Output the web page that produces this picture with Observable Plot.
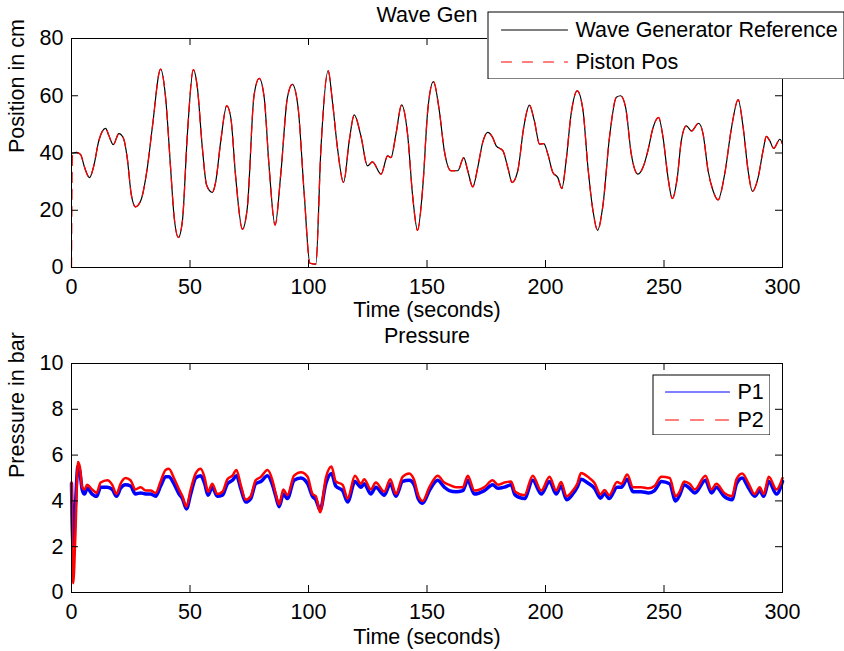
<!DOCTYPE html>
<html><head><meta charset="utf-8">
<script src="https://cdn.jsdelivr.net/npm/d3@7"></script>
<script src="https://cdn.jsdelivr.net/npm/@observablehq/plot@0.6"></script>
<style>
html,body{margin:0;padding:0;background:#fff;}
#wrap{position:relative;width:844px;height:651px;background:#fff;}
</style></head><body><div id="wrap"></div>
<script>
// ---------- data ----------
const xTicks = [0, 50, 100, 150, 200, 250, 300];
const posTicks = [0, 20, 40, 60, 80];
const presTicks = [0, 2, 4, 6, 8, 10];

const waveTime = [0,0.4,2,3.8,5.5,7.6,9.4,11.5,14.4,15.8,17.6,20,21.8,23.5,25.2,27,29.2,32,34.1,37.6,39.7,41.8,43.2,45.1,46.8,48.9,51.4,53.1,55.2,57,59.4,60.8,63,65.5,67.2,69.3,72.1,74.2,77,79.2,81.3,83.4,85.9,88.3,91.1,93.2,95.6,98.2,100.6,103.1,105.2,108.3,110.1,112.2,114.8,117.2,119.3,122.1,124.9,127,130.6,133.4,134.8,136.9,139.3,141.8,144,146,148.2,150.3,152.7,155.2,157.3,160.1,163,165.5,167.2,169.3,171.4,173.5,175.6,177.7,179.2,182,184.1,185.9,188.3,190.8,193.2,195.3,197.5,199.3,201,203.1,205.2,206.9,208.7,210.8,213.4,215.8,217.9,220,222,224.2,227,229.9,231.7,233.8,236.2,239,241.1,243.2,245.4,247.7,249.6,251.7,253.5,255.6,257.3,259.4,261.6,264.6,266.5,268.6,270.7,272.8,275.6,278.5,281.3,283.4,285.5,287.3,289.7,291.8,293.2,294.6,296.3,298.9,300];
const waveRef = [40,40,40.2,39.5,35,31.4,35.5,44.2,48.6,46,42.9,46.8,45.4,38.4,25.6,21.2,23.3,34.9,48.9,69.3,59.4,34.9,18.6,10.5,16.3,46.6,69.1,62.9,41.9,28.8,26.2,29.7,44.3,56.5,52.4,31.4,13.4,21,60,66.1,59.4,34.9,14.8,32.6,59.4,64,55.9,25.6,1.5,1.2,40.8,68.7,58,41.9,29.7,44.3,53.3,46,35.5,36.9,32.6,39,38.4,46.6,56.8,46.6,24.5,13,27.9,54.7,64.9,54.7,40.8,33.8,33.8,38.4,33.8,28.2,34.9,43.7,47.2,45.4,42.5,40.8,34.9,29.7,33.8,48.9,56.7,51.2,43.1,43.3,39.6,33.2,31.4,27.6,37.3,53.6,61.7,55,35,20,13,21.5,45.5,59.5,60,55.9,39.6,32.6,34.9,40.8,48.9,52.4,45.4,31.4,24.1,31.4,44.3,49.5,47.7,50.4,46.6,33.8,26.8,23.6,32.6,48.9,58.6,48.9,33.8,26.6,31.4,40.8,45.8,44.3,41.6,44.8,43.1];
const pistonPos = [0,40,40.2,39.5,35,31.4,35.5,44.2,48.6,46,42.9,46.8,45.4,38.4,25.6,21.2,23.3,34.9,48.9,69.3,59.4,34.9,18.6,10.5,16.3,46.6,69.1,62.9,41.9,28.8,26.2,29.7,44.3,56.5,52.4,31.4,13.4,21,60,66.1,59.4,34.9,14.8,32.6,59.4,64,55.9,25.6,1.5,1.2,40.8,68.7,58,41.9,29.7,44.3,53.3,46,35.5,36.9,32.6,39,38.4,46.6,56.8,46.6,24.5,13,27.9,54.7,64.9,54.7,40.8,33.8,33.8,38.4,33.8,28.2,34.9,43.7,47.2,45.4,42.5,40.8,34.9,29.7,33.8,48.9,56.7,51.2,43.1,43.3,39.6,33.2,31.4,27.6,37.3,53.6,61.7,55,35,20,13,21.5,45.5,59.5,60,55.9,39.6,32.6,34.9,40.8,48.9,52.4,45.4,31.4,24.1,31.4,44.3,49.5,47.7,50.4,46.6,33.8,26.8,23.6,32.6,48.9,58.6,48.9,33.8,26.6,31.4,40.8,45.8,44.3,41.6,44.8,43.1];

const presTime = [0,0.7,1.7,2.7,3.5,4.5,5.5,6.6,8.7,10.6,12.3,15.1,17.2,19,20.7,22.8,24.9,27,29.2,31.3,33.4,35.5,37.6,39.7,41.1,43.2,45.4,46.8,48.5,50.3,52.4,54.5,56.2,57.6,59.4,61.5,63.7,65.8,67.9,69.6,71.4,73.5,75.6,77.7,79.9,82.7,84.8,86.2,87.6,89.4,91.1,93.9,96.8,99.6,101.7,103.1,104.9,107.3,109.7,111.5,114.4,116.5,119.6,122.1,123.5,126.3,128.4,132,134.5,136.9,139.7,142.5,144.6,146.3,148.2,151,154.5,157.3,159.4,162.2,165.1,167.2,170,174.2,177.7,179.9,182.7,185.5,187.2,191.1,194.6,198.2,201.7,204.5,206.6,208.9,211.5,213.4,215,217.9,220.7,223.2,224.9,226.9,230.2,232,234.5,236.9,240.4,243.5,246,248.9,252.4,254.9,256.6,258.5,260.8,263,267.5,270,272.1,275.4,278.7,280.6,283,285.5,288.3,290.4,292.1,294.2,297.5,300];
const p1 = [4.76,2.1,3.9,5.5,5.3,4.5,4.3,4.55,4.3,4.2,4.6,4.6,4.5,4.2,4.55,4.7,4.65,4.3,4.35,4.3,4.3,4.2,4.65,5.05,5.05,4.75,4.3,4.1,3.65,4.3,5.0,5.1,4.75,4.25,4.6,4.2,4.25,4.75,4.9,5.1,4.55,3.95,4.1,4.75,4.85,5.1,4.7,4.2,3.75,4.3,4.1,4.9,5.0,4.75,4.2,4.05,3.6,4.75,5.2,4.65,4.45,3.95,4.85,4.6,4.75,4.3,4.6,4.25,4.75,4.2,4.85,4.9,4.7,4.1,3.9,4.45,4.9,4.6,4.45,4.4,4.45,4.9,4.3,4.45,4.7,4.55,4.6,4.7,4.25,4.1,4.9,4.3,4.85,4.3,4.65,4.05,4.3,4.6,4.95,4.78,4.55,4.12,4.32,4.1,4.6,4.6,4.95,4.4,4.4,4.35,4.45,4.85,4.75,4.0,4.25,4.7,4.55,4.35,4.9,4.35,4.6,4.2,4.05,4.75,5.0,4.6,4.2,4.45,4.2,4.85,4.3,4.85];
const p2 = [4.8,0.4,2.7,5.7,5.5,4.6,4.5,4.7,4.5,4.35,4.8,4.9,4.7,4.3,4.75,5.0,4.9,4.5,4.6,4.45,4.45,4.35,4.85,5.35,5.4,5.0,4.5,4.2,3.75,4.5,5.2,5.4,5.0,4.4,4.75,4.3,4.4,4.95,5.1,5.35,4.7,4.05,4.2,4.9,5.05,5.35,4.9,4.3,3.85,4.5,4.25,5.1,5.25,5.05,4.3,4.2,3.5,5.0,5.5,4.85,4.7,4.1,5.1,4.75,4.95,4.5,4.8,4.4,4.95,4.3,5.05,5.2,4.9,4.25,4.0,4.6,5.1,4.8,4.7,4.6,4.6,5.1,4.45,4.6,4.9,4.7,4.8,4.85,4.4,4.25,5.1,4.45,5.05,4.45,4.82,4.2,4.45,4.75,5.22,5.05,4.78,4.28,4.48,4.25,4.82,4.75,5.15,4.6,4.6,4.55,4.65,5.05,5.0,4.2,4.4,4.85,4.75,4.5,5.1,4.5,4.75,4.35,4.2,4.95,5.2,4.8,4.3,4.6,4.3,5.05,4.5,5.0];

const topTitle = "Wave Gen";
const bottomTitle = "Pressure";
const xLabel = "Time (seconds)";
const topYLabel = "Position in cm";
const bottomYLabel = "Pressure in bar";
const topLegend = ["Wave Generator Reference", "Piston Pos"];
const bottomLegend = ["P1", "P2"];

// ---------- tables ----------
const waveData = waveTime.map((t, i) => ({t, v: waveRef[i]}));
const pistonData = waveTime.map((t, i) => ({t, v: pistonPos[i]}));
const p1Data = presTime.map((t, i) => ({t, v: p1[i]}));
const p2Data = presTime.map((t, i) => ({t, v: p2[i]}));

const FONT = "'Liberation Sans', Arial, Helvetica, sans-serif";
const FS = 21.5;

function subplot({height, mt, mb, yDomain, yTicks, title, titleDy, xLabelDy, ylabel, lines}) {
  const fw = 844 - 71 - 62;
  const fh = height - mt - mb;
  return Plot.plot({
    width: 844, height,
    marginLeft: 71, marginRight: 62, marginTop: mt, marginBottom: mb,
    x: {domain: [0, 300]},
    y: {domain: yDomain},
    style: {fontFamily: FONT, fontSize: FS + "px", color: "black", background: "white", overflow: "visible", display: "block"},
    marks: [
      ...lines,
      Plot.tickX(xTicks, {x: d => d, insetTop: fh - 7, stroke: "black", strokeWidth: 1}),
      Plot.tickX(xTicks, {x: d => d, insetBottom: fh - 7, stroke: "black", strokeWidth: 1}),
      Plot.tickY(yTicks, {y: d => d, insetRight: fw - 7, stroke: "black", strokeWidth: 1}),
      Plot.tickY(yTicks, {y: d => d, insetLeft: fw - 7, stroke: "black", strokeWidth: 1}),
      Plot.frame({stroke: "black", strokeWidth: 1}),
      Plot.axisX({ticks: xTicks, tickSize: 0, tickPadding: 11, label: null, fontSize: FS, tickFormat: d => String(d)}),
      Plot.axisY({ticks: yTicks, tickSize: 0, tickPadding: 8, label: null, fontSize: FS, tickFormat: d => String(d)}),
      Plot.text([title], {text: d => d, frameAnchor: "top", dy: titleDy, fontSize: FS, lineAnchor: "middle"}),
      Plot.text([xLabel], {text: d => d, frameAnchor: "bottom", dy: xLabelDy, fontSize: FS, lineAnchor: "middle"}),
      Plot.text([ylabel], {text: d => d, frameAnchor: "left", dx: -54, rotate: -90, fontSize: FS, lineAnchor: "middle"})
    ]
  });
}

const topChart = subplot({
  height: 325, mt: 38, mb: 58, yDomain: [0, 80], yTicks: posTicks,
  title: topTitle, titleDy: -23, xLabelDy: 43, ylabel: topYLabel,
  lines: [
    Plot.line(waveData, {x: "t", y: "v", stroke: "black", strokeWidth: 1.2, curve: "monotone-x"}),
    Plot.line(pistonData, {x: "t", y: "v", stroke: "#ff0000", strokeWidth: 1.3, strokeDasharray: "10,7", curve: "monotone-x"})
  ]
});
const bottomChart = subplot({
  height: 326, mt: 38, mb: 59, yDomain: [0, 10], yTicks: presTicks,
  title: bottomTitle, titleDy: -27, xLabelDy: 45, ylabel: bottomYLabel,
  lines: [
    Plot.line(p1Data, {x: "t", y: "v", stroke: "#0000ff", strokeWidth: 3.5, curve: "monotone-x"}),
    Plot.line(p2Data, {x: "t", y: "v", stroke: "#ff0000", strokeWidth: 2.5, curve: "monotone-x"})
  ]
});

const wrap = document.getElementById("wrap");
wrap.appendChild(topChart);
wrap.appendChild(bottomChart);

// ---------- legends (drawn with Plot, in their own pixel space) ----------
function legend({left, topPx, w, h, items}) {
  const marks = [Plot.frame({stroke: "black", strokeWidth: 1, inset: 0.5, fill: "white"})];
  for (const it of items) {
    marks.push(Plot.line([{x: it.x1, y: it.cy}, {x: it.x2, y: it.cy}], {
      x: "x", y: "y", stroke: it.swatch, strokeWidth: 1.2, strokeDasharray: it.dash
    }));
    marks.push(Plot.text([it.label], {
      text: d => d, x: () => it.tx, y: () => it.cy, textAnchor: "start", lineAnchor: "middle", fontSize: FS, fill: "black"
    }));
  }
  const svg = Plot.plot({
    width: w, height: h, margin: 0,
    x: {type: "identity"}, y: {type: "identity"},
    style: {position: "absolute", left: left + "px", top: topPx + "px", fontFamily: FONT, fontSize: FS + "px", background: "white", color: "black"},
    marks
  });
  wrap.appendChild(svg);
}
legend({left: 487, topPx: 11, w: 357, h: 68, items: [
  {label: topLegend[0], swatch: "#000000", x1: 14, x2: 80, cy: 18.5, tx: 88},
  {label: topLegend[1], swatch: "#ff0000", dash: "10,11", x1: 14, x2: 80, cy: 50.5, tx: 88}
]});
legend({left: 652, topPx: 374, w: 118, h: 61, items: [
  {label: bottomLegend[0], swatch: "#0000ff", x1: 13, x2: 77, cy: 17.5, tx: 85},
  {label: bottomLegend[1], swatch: "#ff0000", dash: "13,12", x1: 13, x2: 77, cy: 45.5, tx: 85}
]});
</script></body></html>
